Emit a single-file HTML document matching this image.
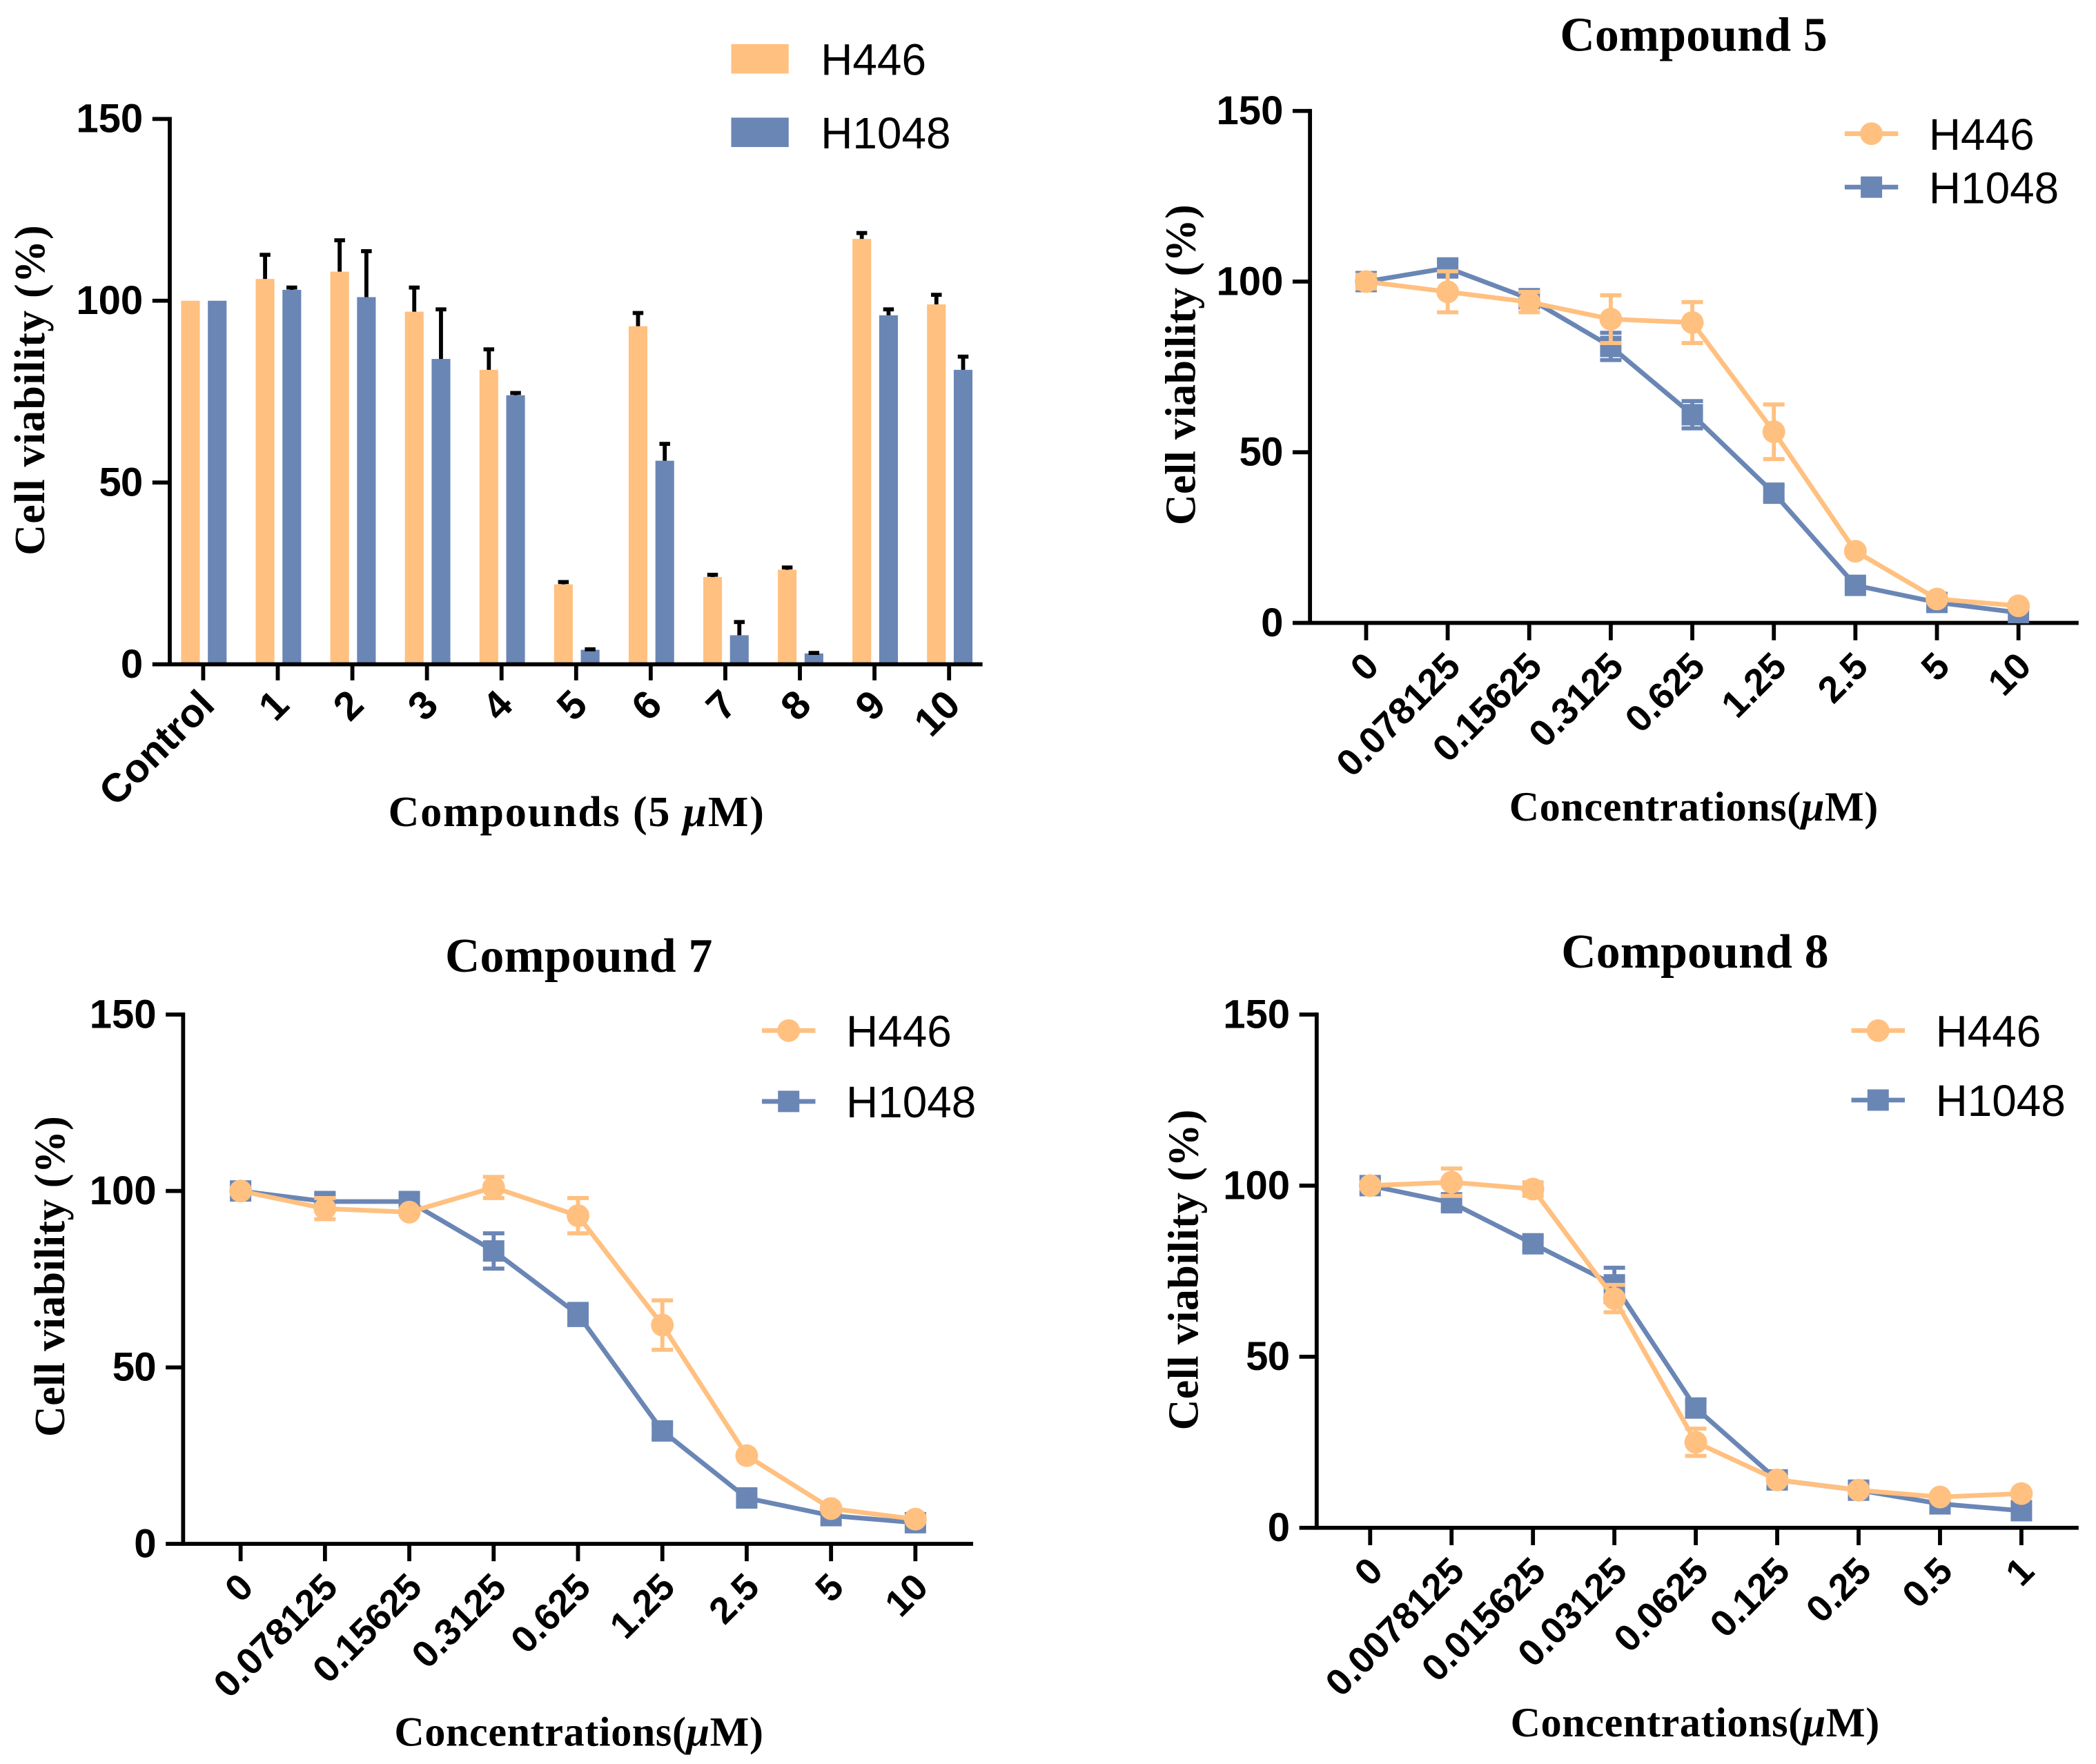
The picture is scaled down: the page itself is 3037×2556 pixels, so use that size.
<!DOCTYPE html>
<html><head><meta charset="utf-8"><style>
html,body{margin:0;padding:0;background:#fff;}
svg{display:block;}
text{font-family:"Liberation Sans",Arial,sans-serif;font-weight:bold;fill:#000;}
.serif{font-family:"Liberation Serif","Times New Roman",serif;}
</style></head><body>
<svg id="fig" width="3037" height="2556" viewBox="0 0 1568 1319.7" preserveAspectRatio="none" xmlns="http://www.w3.org/2000/svg"></svg>
<script>
const barCategories = ["Control","1","2","3","4","5","6","7","8","9","10"];
const barH446 = [100,106,108,97,81,22,93,24,26,117,99];
const barH446Err = [0,7,9,7,6,1,4,1,1,2,3];
const barH1048 = [100,103,101,84,74,4,56,8,3,96,81];
const barH1048Err = [0,1,13,14,1,0.5,5,4,0.5,2,4];

const c5Labels = ["0","0.078125","0.15625","0.3125","0.625","1.25","2.5","5","10"];
const c5H446 = [100,97,94,89,88,56,21,7,5];
const c5H446Err = [2,6,3,7,6,8,1,1,1];
const c5H1048 = [100,104,95,81,61,38,11,6,3];
const c5H1048Err = [1,2,2,4,4,2,1,1,1];

const c7Labels = ["0","0.078125","0.15625","0.3125","0.625","1.25","2.5","5","10"];
const c7H446 = [100,95,94,101,93,62,25,10,7];
const c7H446Err = [1,3,1,3,5,7,1,1,1];
const c7H1048 = [100,97,97,83,65,32,13,8,6];
const c7H1048Err = [1,2,2,5,3,2,1,1,1];

const c8Labels = ["0","0.0078125","0.015625","0.03125","0.0625","0.125","0.25","0.5","1"];
const c8H446 = [100,101,99,67,25,14,11,9,10];
const c8H446Err = [1,4,2,4,4,1,1,1,1];
const c8H1048 = [100,95,83,71,35,14,11,7,5];
const c8H1048Err = [1,2,2,5,2,1,1,1,1];

const yTicks = [0,50,100,150];
const OR = "#FFC080", BL = "#6A86B5";
const svg = document.getElementById('fig');
const NS = "http://www.w3.org/2000/svg";
function mk(tag, at, parent){const e=document.createElementNS(NS,tag);for(const k in at)e.setAttribute(k,at[k]);(parent||svg).appendChild(e);return e;}
function txt(s, at, parent){const e=mk('text',at,parent);e.textContent=s;return e;}

function axesY(g, x0, yTop, yBot, xEnd, sy){
  let e=mk('line',{x1:x0,y1:yTop-1.5,x2:x0,y2:yBot,stroke:'#000','stroke-width':3},g);
  
  e=mk('line',{x1:x0-1.5,y1:yBot,x2:xEnd,y2:yBot,stroke:'#000','stroke-width':3},g);
  
  yTicks.forEach(v=>{
    const y=sy(v);
    mk('line',{x1:x0-13,y1:y,x2:x0,y2:y,stroke:'#000','stroke-width':3},g);
    const t=txt(String(v),{x:x0-20,y:y+10,'text-anchor':'end','font-size':30,'textLength':v>=100?50:(v>=10?33:17)},g);
    
  });
}

// Panel A: bar chart
(function(){
  const g=mk('g',{});
  const x0=127, yTop=89, yBot=497;
  const sy=v=>yBot-(v/150)*(yBot-yTop);
  const sx=i=>152+i*55.8;
  barCategories.forEach((c,i)=>{
    const cx=sx(i);
    [[barH446,barH446Err,OR,-16.5],[barH1048,barH1048Err,BL,3.5]].forEach(([vals,errs,col,off],k)=>{
      const v=vals[i], y=sy(v);
      const r=mk('rect',{x:cx+off,y:y,width:14,height:yBot-y,fill:col},g);
      
      if(errs[i]>0){
        const ye=sy(v+errs[i]);
        mk('line',{x1:cx+off+7,y1:y,x2:cx+off+7,y2:ye,stroke:'#000','stroke-width':3},g);
        mk('line',{x1:cx+off+3,y1:ye+1,x2:cx+off+11,y2:ye+1,stroke:'#000','stroke-width':3},g);
      }
    });
    mk('line',{x1:cx,y1:yBot,x2:cx,y2:yBot+12,stroke:'#000','stroke-width':3},g);
    const t=txt(c,{x:cx+10,y:yBot+32,'text-anchor':'end','font-size':30,transform:`rotate(-45 ${cx+10} ${yBot+32})`},g);
    
  });
  axesY(g,x0,yTop,yBot,735,sy);
  let t=txt('Cell viability (%)',{x:0,y:0,'text-anchor':'middle','font-size':32,class:'serif',textLength:247,transform:`translate(33 292) rotate(-90)`},g);
  
  t=txt('Compounds (5 ',{x:431,y:618,'text-anchor':'middle','font-size':32,class:'serif',textLength:281},g);
  const ts=mk('tspan',{'font-style':'italic'},t);ts.textContent='μ';
  const ts2=mk('tspan',{},t);ts2.textContent='M)';
  
  [[OR,'H446',44],[BL,'H1048',99]].forEach(([col,l,y])=>{
    const le=mk('g',{},g);
    mk('rect',{x:547,y:y-11,width:43,height:22,fill:col},le);
    txt(l,{x:614,y:y+12,'font-size':33,style:'font-weight:normal'},le);
  });
})();

function linePanel(o){
  const g=mk('g',{});
  const sy=v=>o.yBot-(v/150)*(o.yBot-o.yTop);
  const sx=i=>o.xFirst+i*o.step;
  axesY(g,o.x0,o.yTop,o.yBot,o.xEnd,sy);
  o.labels.forEach((l,i)=>{
    const cx=sx(i);
    mk('line',{x1:cx,y1:o.yBot,x2:cx,y2:o.yBot+13,stroke:'#000','stroke-width':3},g);
    const t=txt(l,{x:cx+11,y:o.yBot+34,'text-anchor':'end','font-size':28,transform:`rotate(-45 ${cx+11} ${o.yBot+34})`},g);
    
  });
  [[o.b,o.be,BL,'sq','series-h1048'],[o.a,o.ae,OR,'ci','series-h446']].forEach(([vals,errs,col,m,nm])=>{
    const sg=mk('g',{},g);
    const pts=vals.map((v,i)=>sx(i)+','+sy(v)).join(' ');
    mk('polyline',{points:pts,fill:'none',stroke:col,'stroke-width':3.5},sg);
    vals.forEach((v,i)=>{
      const cx=sx(i),cy=sy(v);
      if(errs[i]>1.5){
        const y1=sy(v+errs[i]),y2=sy(v-errs[i]);
        mk('line',{x1:cx,y1:y1,x2:cx,y2:y2,stroke:col,'stroke-width':3},sg);
        mk('line',{x1:cx-8,y1:y1,x2:cx+8,y2:y1,stroke:col,'stroke-width':3},sg);
        mk('line',{x1:cx-8,y1:y2,x2:cx+8,y2:y2,stroke:col,'stroke-width':3},sg);
      }
      const p = m==='sq'? mk('rect',{x:cx-8,y:cy-8,width:16,height:16,fill:col},sg)
                        : mk('circle',{cx:cx,cy:cy,r:8.5,fill:col},sg);
      
      
    });
  });
  let t=txt(o.title,{x:o.titleX,y:o.titleY,'text-anchor':'middle','font-size':36,class:'serif',textLength:200},g);
  
  t=txt('Cell viability (%)',{x:0,y:0,'text-anchor':'middle','font-size':32,class:'serif',textLength:240,transform:`translate(${o.ylX} ${o.ylY}) rotate(-90)`},g);
  
  t=txt('Concentrations(',{x:o.titleX,y:o.xlY,'text-anchor':'middle','font-size':31,class:'serif',textLength:276},g);
  const ts=mk('tspan',{'font-style':'italic'},t);ts.textContent='μ';
  const ts2=mk('tspan',{},t);ts2.textContent='M)';
  
  [[OR,'H446',o.lg1,'ci'],[BL,'H1048',o.lg2,'sq']].forEach(([col,l,y,m])=>{
    const le=mk('g',{},g);
    mk('line',{x1:o.lgX,y1:y,x2:o.lgX+40,y2:y,stroke:col,'stroke-width':3.5},le);
    if(m==='ci') mk('circle',{cx:o.lgX+20,cy:y,r:8.5,fill:col},le);
    else mk('rect',{x:o.lgX+12,y:y-8,width:16,height:16,fill:col},le);
    txt(l,{x:o.lgX+63,y:y+12,'font-size':33,style:'font-weight:normal'},le);
  });
}

linePanel({name:'compound-5-panel',x0:980,yTop:83,yBot:466,xEnd:1555,xFirst:1022,step:61,
  labels:c5Labels,a:c5H446,ae:c5H446Err,b:c5H1048,be:c5H1048Err,title:'Compound 5',titleX:1267,titleY:38,
  ylX:894,ylY:273,xlY:614,lgX:1380,lg1:100,lg2:140});
linePanel({name:'compound-7-panel',x0:137,yTop:759,yBot:1155,xEnd:728,xFirst:180,step:63.1,
  labels:c7Labels,a:c7H446,ae:c7H446Err,b:c7H1048,be:c7H1048Err,title:'Compound 7',titleX:433,titleY:727,
  ylX:48,ylY:955,xlY:1306,lgX:570,lg1:771,lg2:824});
linePanel({name:'compound-8-panel',x0:985,yTop:759,yBot:1143,xEnd:1555,xFirst:1025,step:60.9,
  labels:c8Labels,a:c8H446,ae:c8H446Err,b:c8H1048,be:c8H1048Err,title:'Compound 8',titleX:1268,titleY:724,
  ylX:896,ylY:950,xlY:1299,lgX:1385,lg1:771,lg2:823});
</script>
</body></html>
